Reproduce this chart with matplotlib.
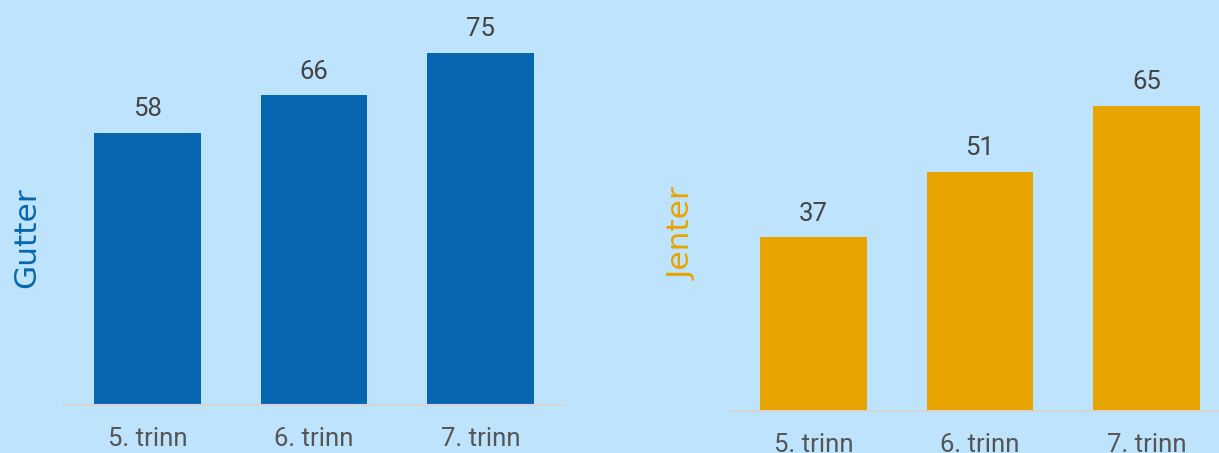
import matplotlib
matplotlib.use("Agg")
import matplotlib.pyplot as plt

categories = ["5. trinn", "6. trinn", "7. trinn"]
gutter = [58, 66, 75]
jenter = [37, 51, 65]
series_labels = ["Gutter", "Jenter"]

W, H = 1219, 453
BG = "#BEE4FD"
BLUE = "#0766B0"
ORANGE = "#E8A400"
TXT = "#444444"
TICK = "#555555"

plt.rcParams['font.family'] = ['Roboto', 'DejaVu Sans']

fig = plt.figure(figsize=(W / 100, H / 100), dpi=100, facecolor=BG)

scale = 4.69  # px per unit
ymax = 80

def make_ax(left_px, base_px, values, color, label, label_x, label_y):
    height_px = ymax * scale
    ax = fig.add_axes([left_px / W, (H - base_px) / H, 500 / W, height_px / H])
    ax.set_facecolor("none")
    x = list(range(len(categories)))
    bars = ax.bar(x, values, width=0.64, color=color, zorder=2)
    ax.set_xlim(-0.5, 2.5)
    ax.set_ylim(0, ymax)
    for s in ["top", "right", "left"]:
        ax.spines[s].set_visible(False)
    ax.spines["bottom"].set_color("#D4D4D4")
    ax.spines["bottom"].set_linewidth(1.5)
    ax.set_yticks([])
    ax.set_xticks(x)
    ax.set_xticklabels(categories, fontsize=18.5, color=TICK)
    ax.tick_params(axis="x", length=0, pad=16)
    for b, v in zip(bars, values):
        ax.annotate(str(v), (b.get_x() + b.get_width() / 2, v),
                    xytext=(0, 8.5), textcoords="offset points",
                    ha="center", va="bottom", fontsize=18.5, color=TXT,
                    annotation_clip=False)
    fig.text(label_x / W, 1 - label_y / H, label, rotation=90, ha="center",
             va="center", fontsize=22.5, color=color,
             family=['DejaVu Sans'])
    return ax

make_ax(64, 405, gutter, BLUE, series_labels[0], 27, 237.5)
make_ax(730, 411, jenter, ORANGE, series_labels[1], 682, 233.5)

fig.savefig("out.png", dpi=100, facecolor=BG)
